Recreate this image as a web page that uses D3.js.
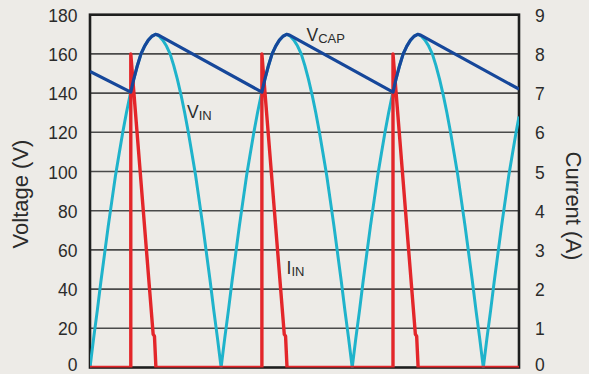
<!DOCTYPE html>
<html>
<head>
<meta charset="utf-8">
<script src="https://cdn.jsdelivr.net/npm/d3@7/dist/d3.min.js"></script>
<style>
  html, body { margin: 0; padding: 0; background: #edebe7; }
  svg { display: block; }
  text { font-family: "Liberation Sans", Arial, Helvetica, sans-serif; fill: #2b2b2b; }
</style>
</head>
<body>
<svg id="chart" width="589" height="374"></svg>
<script>
// Line phase (degrees) at which the input waveform is sampled
const phaseDeg = [
  0, 5, 10, 15, 20, 25, 30, 35, 40, 45, 50, 55, 60, 65, 70, 75, 80, 85, 90,
  95, 100, 105, 110, 115, 120, 125, 130, 135, 140, 145, 150, 155, 160, 165, 170, 175, 180,
  185, 190, 195, 200, 205, 210, 215, 220, 225, 230, 235, 240, 245, 250, 255, 260, 265, 270,
  275, 280, 285, 290, 295, 300, 305, 310, 315, 320, 325, 330, 335, 340, 345, 350, 355, 360,
  365, 370, 375, 380, 385, 390, 395, 400, 405, 410, 415, 420, 425, 430, 435, 440, 445, 450,
  455, 460, 465, 470, 475, 480, 485, 490, 495, 500, 505, 510, 515, 520, 525, 530, 535, 540,
  545, 550, 555, 560, 565, 570, 575, 580, 585, 589
];
// Rectified input voltage V_IN (V)
const vIn = [
  0, 15, 29, 44, 58, 72, 85, 98, 109, 120, 130, 139, 147, 154, 160, 164, 167, 169, 170,
  169, 167, 164, 160, 154, 147, 139, 130, 120, 109, 98, 85, 72, 58, 44, 29, 15, 0,
  15, 29, 44, 58, 72, 85, 98, 109, 120, 130, 139, 147, 154, 160, 164, 167, 169, 170,
  169, 167, 164, 160, 154, 147, 139, 130, 120, 109, 98, 85, 72, 58, 44, 29, 15, 0,
  15, 29, 44, 58, 72, 85, 98, 109, 120, 130, 139, 147, 154, 160, 164, 167, 169, 170,
  169, 167, 164, 160, 154, 147, 139, 130, 120, 109, 98, 85, 72, 58, 44, 29, 15, 0,
  15, 29, 44, 58, 72, 85, 98, 109, 120, 128
];
// Capacitor voltage V_CAP (V): phase / value pairs
const vCapPhase = [
  0, 56, 60, 65, 70, 75, 80, 85, 90, 94,
  236, 240, 245, 250, 255, 260, 265, 270, 274,
  416, 420, 425, 430, 435, 440, 445, 450, 454, 589
];
const vCap = [
  151, 140.5, 147, 154, 160, 164, 167, 169, 170, 169.6,
  140.5, 147, 154, 160, 164, 167, 169, 170, 169.6,
  140.5, 147, 154, 160, 164, 167, 169, 170, 169.6, 142
];
// Input current I_IN (A): phase / value pairs
const iInPhase = [0, 56, 56, 86.7, 88.5, 90.5, 236, 236, 266.7, 268.5, 270.5, 416, 416, 446.7, 448.5, 450.5, 589];
const iIn      = [0, 0, 8, 0.85, 0.8, 0, 0, 8, 0.85, 0.8, 0, 0, 8, 0.85, 0.8, 0, 0];

const voltTicks = [0, 20, 40, 60, 80, 100, 120, 140, 160, 180];
const currTicks = [0, 1, 2, 3, 4, 5, 6, 7, 8, 9];

const svg = d3.select("#chart");
const plotL = 90, plotR = 519, plotT = 14.7, plotB = 367.5;

const x = d3.scaleLinear().domain([0, 589]).range([plotL, plotR]);
const yV = d3.scaleLinear().domain([0, 180]).range([plotB, plotT]);
const yI = d3.scaleLinear().domain([0, 9]).range([plotB, plotT]);

// Horizontal gridlines
svg.append("g")
  .selectAll("line")
  .data(voltTicks.slice(1, -1))
  .join("line")
  .attr("x1", plotL).attr("x2", plotR)
  .attr("y1", d => yV(d)).attr("y2", d => yV(d))
  .attr("stroke", "#4a4a4a")
  .attr("stroke-width", 1.6);

// Tick label styling; the bottom label sits a little above its line
function styleTicks(g) {
  g.select(".domain").remove();
  g.selectAll("text")
    .attr("font-size", 17.5)
    .attr("dy", d => d === 0 ? "0.16em" : "0.38em")
    .style("font-family", "'Liberation Sans', Arial, sans-serif")
    .attr("fill", "#2b2b2b");
}

// Left (voltage) axis labels
svg.append("g")
  .attr("transform", `translate(${plotL},0)`)
  .call(d3.axisLeft(yV).tickValues(voltTicks).tickSize(0).tickPadding(12.5))
  .call(styleTicks);

// Right (current) axis labels
svg.append("g")
  .attr("transform", `translate(${plotR},0)`)
  .call(d3.axisRight(yI).tickValues(currTicks).tickSize(0).tickPadding(16))
  .call(styleTicks);

// Axis titles
svg.append("text")
  .attr("transform", "translate(28,194) rotate(-90)")
  .attr("text-anchor", "middle")
  .attr("font-size", 22)
  .text("Voltage (V)");
svg.append("text")
  .attr("transform", "translate(566,206) rotate(90)")
  .attr("text-anchor", "middle")
  .attr("font-size", 22)
  .text("Current (A)");

// Frame (beneath the traces so the zero-current line shows above the bottom edge)
svg.append("rect")
  .attr("x", plotL).attr("y", plotT)
  .attr("width", plotR - plotL).attr("height", plotB - plotT)
  .attr("fill", "none")
  .attr("stroke", "#1e1e1e")
  .attr("stroke-width", 2.6);

// Plot clip
svg.append("clipPath").attr("id", "plotClip")
  .append("rect").attr("x", plotL).attr("y", plotT - 5)
  .attr("width", plotR - plotL).attr("height", plotB - plotT + 5);

const plot = svg.append("g").attr("clip-path", "url(#plotClip)");

const lineVin = d3.line().x((d, i) => x(phaseDeg[i])).y(d => yV(d));
plot.append("path")
  .attr("d", lineVin(vIn))
  .attr("fill", "none")
  .attr("stroke", "#1fb3cb")
  .attr("stroke-width", 3)
  .attr("stroke-linejoin", "round");

const lineI = d3.line().x((d, i) => x(iInPhase[i])).y(d => yI(d));
plot.append("path")
  .attr("d", lineI(iIn))
  .attr("fill", "none")
  .attr("stroke", "#e3262a")
  .attr("stroke-width", 3.4)
  .attr("stroke-linejoin", "round");

const lineCap = d3.line().x((d, i) => x(vCapPhase[i])).y(d => yV(d));
plot.append("path")
  .attr("d", lineCap(vCap))
  .attr("fill", "none")
  .attr("stroke", "#16479a")
  .attr("stroke-width", 3.2)
  .attr("stroke-linejoin", "round");

// Series labels with subscripts
function subLabel(px, py, main, sub) {
  const t = svg.append("text").attr("x", px).attr("y", py).attr("font-size", 17.5);
  t.append("tspan").text(main);
  t.append("tspan").attr("font-size", 13).attr("dy", 2).text(sub);
}
subLabel(306.5, 40.7, "V", "CAP");
subLabel(187, 118.3, "V", "IN");
subLabel(286.5, 274.3, "I", "IN");
</script>
</body>
</html>
